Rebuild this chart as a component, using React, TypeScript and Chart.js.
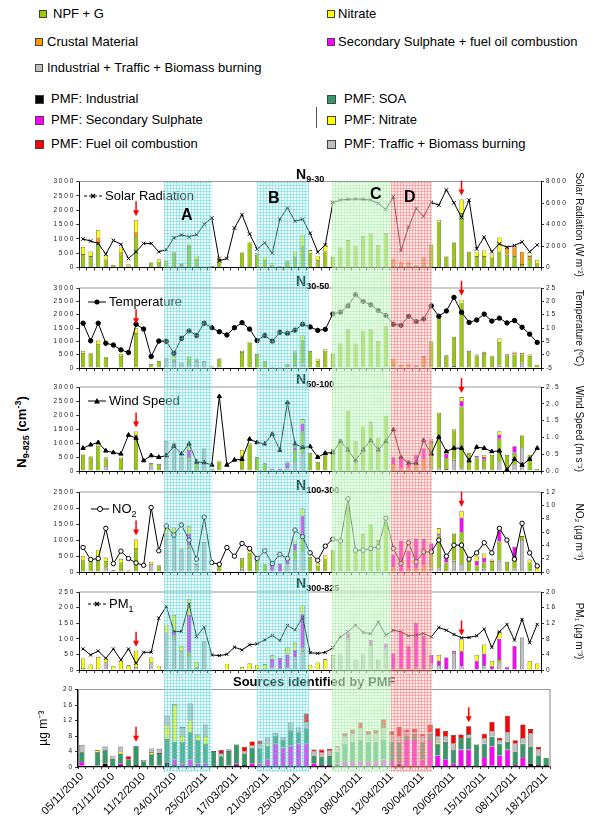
import React, { useEffect, useRef, useState } from 'react';
import { Chart, registerables } from 'chart.js';
Chart.register(...registerables);

const FONT = '"Liberation Sans", Arial, sans-serif';
const W = 596, H = 821;

// ---------- categories ----------
const dateLabels = ['05/11/2010','21/11/2010','11/12/2010','24/01/2010','25/02/2011','17/03/2011','21/03/2011','25/03/2011','30/03/2011','08/04/2011','12/04/2011','30/04/2011','20/05/2011','15/10/2011','08/11/2011','18/12/2011'];
const NCAT = 61;
const categories = Array.from({ length: NCAT }, (_, i) => (i % 4 === 0 ? dateLabels[i / 4] : ''));
const arrowIdx = [7, 50];
const shadeRanges = [[10.7, 17.0], [23.0, 29.8], [32.85, 40.7], [40.7, 46.05]];
const shadeNames = ['A', 'B', 'C', 'D'];

// ---------- N9-30 ----------
const p1Green = [470,400,850,280,93,450,40,1100,0,175, 200,150,500,110,750,300,10,50,300,0, 30,525,850,450,250,100,40,230,380,760, 500,250,560,374,700,957,760,1097,1190,782, 1202,130,60,60,40,200,805,1600,385,875, 1900,549,400,400,350,560,450,400,120,300, 150];
const p1Orange = [0,0,200,0,0,100,0,150,0,0, 0,0,0,0,0,0,0,0,50,0, 0,0,0,0,0,0,0,0,0,0, 0,0,0,0,0,0,0,0,0,0, 0,160,125,125,40,150,0,0,0,0, 0,0,0,0,0,0,250,300,429,100, 0];
const p1Yellow = [250,160,260,150,0,150,77,400,0,0, 90,75,50,40,55,110,0,0,60,0, 0,0,50,50,90,50,0,0,170,385, 107,160,220,0,0,0,0,0,0,0, 0,0,0,0,0,0,0,60,0,0, 470,0,150,195,105,490,59,59,0,44, 118];
const solarRadiation = [2650,2460,2240,1245,2520,2150,840,1460,2240,2240, 1460,1650,2770,3020,2860,3050,4015,4607,620,840, 3670,4920,3110,1710,2300,1340,4510,5540,4300,4500, 3180,1430,2100,6050,6270,6340,6370,6340,6270,5960, 5400,6590,1570,3760,5490,4770,6050,5800,7215,6020, 4640,6270,1725,2820,1470,2200,1880,2040,2380,1470, 2100];

// ---------- N30-50 ----------
const p2Gray = [0,0,0,0,0,0,20,0,0,0, 0,300,250,202,150,250,252,0,0,0, 0,0,0,0,0,0,0,0,100,160, 0,0,0,0,0,0,0,0,0,0, 0,0,0,0,0,0,0,0,0,72, 0,0,0,0,0,80,0,0,200,0, 0];
const p2Green = [550,555,900,380,15,450,0,1300,0,139, 252,30,70,0,200,60,0,50,353,0, 20,600,950,530,265,50,38,120,480,880, 643,250,650,542,920,1462,920,1387,1450,1008, 1563,150,0,0,0,100,996,1900,479,1100, 2450,643,470,550,441,900,460,500,300,450, 126];
const p2Orange = [0,0,0,0,0,0,0,0,0,0, 0,0,0,0,0,0,0,0,0,0, 0,0,0,0,0,0,0,0,0,0, 0,0,0,0,0,0,0,0,0,0, 0,200,126,164,70,300,0,0,0,0, 0,0,0,0,0,0,57,70,67,0, 0];
const p2Magenta = [0,0,0,0,0,0,0,0,0,0, 0,0,0,0,0,0,0,0,0,0, 0,0,0,0,0,0,0,0,0,0, 0,0,0,0,0,0,0,0,0,0, 0,0,0,0,30,54,0,0,0,0, 0,0,0,0,0,0,0,0,0,0, 0];
const p2Yellow = [90,0,130,36,0,80,0,190,0,0, 0,48,120,0,66,43,0,26,0,0, 0,43,33,0,0,0,0,31,50,180, 0,100,56,0,0,0,0,0,0,0, 0,0,0,0,0,0,0,29,0,0, 109,0,34,55,0,129,0,35,0,54, 0];
const temperature = [11.8,5.2,11.8,4.3,3.6,1.8,0.8,11.4,9.6,-0.7, 5.1,5.0,0.5,6.1,8.9,7.2,11.8,10.1,8.6,7.4, 10.1,12.0,9.6,5.3,7.2,5.1,8.4,8.0,9.2,11.4, 10.4,9.1,9.5,15.3,15.9,18.3,22.5,20.0,18.7,16.6, 14.7,11.4,11.0,14.4,12.4,13.4,18.3,14.4,16.4,21.5, 15.9,12.1,13.0,15.2,12.6,13.7,11.9,12.8,10.3,7.7, 4.6];

// ---------- N50-100 ----------
const p3Gray = [0,0,0,180,0,0,20,0,0,200, 0,1076,900,514,400,0,801,0,0,0, 0,53,0,0,0,0,0,100,300,600, 0,0,0,0,0,0,0,0,0,0, 0,0,0,0,0,0,100,80,67,400, 100,0,0,100,0,300,0,250,800,0, 0];
const p3Green = [580,514,900,270,20,430,0,1300,0,75, 251,0,56,0,100,300,0,72,340,0, 20,500,950,490,275,24,0,0,450,800, 645,323,600,789,1050,2151,1076,1590,1700,1171, 1972,100,0,0,124,0,900,2000,400,1050, 2200,633,480,300,574,850,574,400,467,574, 72];
const p3Orange = [0,0,0,0,0,0,0,0,0,0, 0,0,0,0,0,0,0,0,0,0, 0,0,0,0,0,0,0,0,0,0, 0,0,0,0,0,0,0,0,0,0, 0,150,90,132,100,400,0,0,0,0, 0,0,0,0,0,0,0,0,0,0, 0];
const p3Magenta = [0,0,0,0,0,0,0,0,0,0, 0,0,0,0,250,0,0,0,0,0, 0,0,0,0,0,60,84,200,100,300, 0,0,0,0,85,0,0,0,69,0, 0,240,400,250,350,413,80,0,150,0, 200,0,58,100,0,150,0,234,0,0, 0];
const p3Yellow = [18,0,68,40,0,48,0,110,0,0, 0,0,60,0,218,35,0,0,30,0, 0,200,42,0,0,0,0,35,46,153, 0,0,93,0,0,0,0,0,0,0, 0,0,0,0,0,0,67,0,100,44, 141,0,0,74,0,122,0,0,0,0, 0];
const windSpeed = [0.68,0.78,0.85,0.60,0.55,0.51,1.07,0.98,0.31,0.46, 0.41,0.46,0.74,0.51,0.81,0.27,0.25,0.18,2.22,0.18, 0.33,0.35,0.95,0.85,0.81,1.10,0.62,2.04,0.81,0.70, 0.73,0.41,0.53,0.55,0.88,0.63,0.31,0.63,0.91,0.63, 0.88,1.23,0.41,0.23,0.23,0.91,0.51,1.01,0.58,0.68, 0.68,0.31,0.71,0.68,0.58,0.60,0.03,0.35,0.18,0.35, 0.68];

// ---------- N100-300 ----------
const p4Gray = [0,0,0,150,0,0,0,0,0,250, 0,1200,1100,650,750,180,935,0,0,0, 0,100,0,0,0,0,0,200,380,650, 0,0,0,0,0,0,0,0,0,0, 0,0,0,0,0,0,100,150,0,350, 250,0,0,100,0,350,0,100,1000,0, 0];
const p4Green = [370,330,500,200,53,300,40,750,0,0, 180,0,100,50,89,60,0,31,200,0, 10,300,600,350,242,42,0,44,300,400, 473,200,400,683,950,2048,735,1176,1460,998, 1544,0,0,0,0,0,500,1000,300,850, 1000,420,200,200,340,600,315,300,124,300, 0];
const p4Orange = [0,0,0,0,0,0,0,0,0,0, 0,0,0,0,0,0,0,0,0,0, 0,0,0,0,0,0,0,0,0,0, 0,0,0,0,0,0,0,0,0,0, 0,150,0,100,100,200,0,0,0,0, 0,0,0,0,0,0,0,0,0,0, 0];
const p4Magenta = [0,0,0,0,0,0,0,0,0,0, 0,0,0,0,350,0,0,0,0,0, 0,0,0,0,0,200,263,250,200,700, 0,0,0,0,48,0,0,0,0,0, 0,396,977,562,950,829,293,50,225,0, 450,0,150,150,0,350,0,388,0,0, 0];
const p4Yellow = [124,59,183,102,0,110,34,269,0,65, 30,218,187,35,250,44,0,0,63,0, 0,41,62,39,0,0,0,0,97,246, 0,84,125,0,0,0,0,0,0,0, 0,0,0,0,0,0,0,166,0,0, 212,0,144,128,49,118,0,0,0,89, 189];
const no2 = [3.68,1.87,2.02,6.55,1.26,3.13,2.02,1.36,1.01,9.68, 3.18,6.91,5.55,7.06,4.79,1.92,8.22,1.41,1.16,3.68, 2.37,4.29,3.53,2.02,3.18,1.26,2.67,2.02,6.30,5.29, 2.87,1.76,3.88,4.94,4.69,10.99,3.28,3.28,3.53,3.78, 8.07,3.53,1.26,4.39,1.51,3.03,3.03,4.79,2.37,4.03, 4.03,1.92,2.87,4.39,2.87,6.55,4.79,1.92,7.31,2.87, 0.91];

// ---------- N300-825 ----------
const p5Gray = [0,0,0,25,0,0,0,10,0,20, 0,120,100,60,40,0,93,0,0,0, 0,0,0,0,0,10,0,10,40,60, 0,0,0,40,50,100,32,50,80,32, 70,0,0,0,0,0,20,15,0,55, 12,0,0,15,0,25,0,0,104,0, 0];
const p5Green = [7,0,0,0,0,0,0,0,0,5, 0,0,10,0,17,10,0,0,0,0, 0,0,0,0,4,0,4,0,0,10, 0,0,0,0,0,0,0,0,0,0, 0,0,0,0,0,0,0,0,0,0, 0,0,0,0,0,10,0,0,0,0, 0];
const p5Orange = [0,0,0,0,0,0,0,0,0,0, 0,0,0,0,0,0,0,0,0,0, 0,0,0,0,0,0,0,0,0,0, 0,0,0,0,0,0,0,0,0,0, 0,3,5,0,7,0,0,0,0,0, 0,0,0,0,0,0,0,0,0,0, 0];
const p5Magenta = [0,0,0,0,0,0,0,0,0,0, 0,0,15,0,120,0,0,0,0,0, 0,0,0,0,0,27,35,40,25,110, 0,0,0,0,0,17,0,0,16,0, 15,50,115,78,145,109,28,15,40,7, 48,0,30,37,12,65,9,77,0,0, 0];
const p5Yellow = [30,18,42,12,13,30,15,52,0,15, 14,25,52,17,50,15,0,0,0,20, 0,10,22,17,15,10,0,23,23,27, 16,24,35,8,0,0,0,0,0,0, 0,0,0,0,0,0,0,18,0,0, 38,2,18,30,17,24,0,0,0,29, 21];
const pm1 = [5.41,3.86,4.89,3.0,5.41,2.58,5.41,1.72,4.55,4.55, 13.3,16.3,9.87,9.87,16.9,8.58,10.99,3.86,3.69,4.03, 5.84,5.15,6.44,6.70,7.73,8.84,7.55,11.4,10.3,13.5, 4.43,4.26,4.51,5.70,8.51,9.79,11.5,9.62,9.36,12.3, 8.94,10.2,9.79,8.77,8.94,9.36,8.51,10.9,10.2,9.11, 8.26,8.34,8.77,10.5,5.79,9.79,11.7,7.66,13.0,6.98, 11.7];

// ---------- PMF sources (µg m-3) ----------
const pmfIndustrial = [0.3,0,0.3,1.0,0,0.5,0,0.5,0,0.3, 0.3,1.2,0.5,0,0,0,0,0,0,0.3, 0.5,0.5,0,0,0,0,0,0,0,0, 0,0,0,0.5,0,0,0,0,0,0, 0,1.0,0,0,0,0,0,0,0,0, 0,0,0,0.3,0,0,0,0,1.0,0.5, 0.5];
const pmfSecSulphate = [1.0,0,0,0,0,0.5,0,0,0,0, 0,0,1.5,1.0,2.0,1.0,1.0,0,0,0, 0.5,0,1.0,1.0,2.0,6.0,5.0,5.5,6.0,6.0, 1.0,0.5,0.5,0.5,1.5,1.5,1.5,1.5,1.5,2.0, 1.5,0.5,7.0,7.0,2.0,7.0,3.0,2.0,1.0,4.5, 4.5,0,2.5,5.0,3.0,4.5,0.5,2.5,0,0, 0];
const pmfSOA = [2.5,0,3.5,3.5,2.2,2.5,2.0,5.0,1.5,3.0, 3.3,6.0,4.5,5.5,7.0,6.0,5.0,4.1,2.8,3.8, 4.8,3.0,4.0,4.0,3.5,2.0,2.0,4.0,3.0,4.0, 2.0,2.0,2.5,3.0,4.5,5.0,5.5,5.0,5.0,5.0, 5.0,5.0,1.2,1.5,4.5,1.5,3.0,4.5,3.5,3.0, 3.0,5.8,3.5,2.5,3.0,2.0,3.5,3.5,4.3,2.5, 1.9];
const pmfNitrate = [0,0,0.5,0,0,0.5,0,0,0,0.5, 0,3.5,9.5,1.5,3.0,1.0,2.0,0,0,0, 0,0,0,0,0.5,0,0,0,0,0, 0,0,0,0,0,0,0,0,0,0, 0,0,0,0,0,0,0.5,0,0,0, 0,0,0,0,0,0,0,0,0,0, 0];
const pmfTraffic = [1.9,0,0,0.8,0.7,1.3,0,0,0.3,1.0, 1.1,2.6,0.3,2.3,4.4,0.6,3.0,0,0.8,0.5, 0,0.5,0.5,0.8,1.6,0.8,0.8,2.0,1.2,1.5, 1.0,1.2,1.2,1.0,1.8,2.2,3.0,2.0,2.2,3.3, 2.0,1.5,0.8,0.5,1.5,0.5,1.5,1.5,1.5,0, 1.0,0,1.5,1.5,1.0,2.5,2.0,1.5,3.5,1.5, 0];
const pmfFuelOil = [0,0,0,0,0,0,0.8,0,0,0, 0,0,0,0,0,0,0,0,0.8,0, 0,1.2,1.1,1.0,0,0,0,0,0,2.3, 0.5,0.8,0.5,0.5,1.0,1.0,1.5,0.8,0.9,2.0, 0.7,2.3,0.7,0.8,0.6,2.0,2.0,1.3,2.3,0.9, 2.0,0,1.1,2.4,0.5,4.2,0.9,3.5,1.0,0.7, 0];

// ---------- colours ----------
const GREEN = '#99CC00', ORANGE = '#FF9900', GRAY = '#C0C0C0', YELLOW = '#FFFF00', MAGENTA = '#FF00FF';
const BLACK = '#000000', RED = '#FF0000', SOA = '#339966';

const legendTop = [
  { name: 'NPF + G', color: GREEN },
  { name: 'Crustal Material', color: ORANGE },
  { name: 'Industrial + Traffic + Biomass burning', color: GRAY },
  { name: 'Nitrate', color: YELLOW },
  { name: 'Secondary Sulphate + fuel oil combustion', color: MAGENTA },
];
const legendPmf = [
  { name: 'PMF: Industrial', color: BLACK },
  { name: 'PMF: Secondary Sulphate', color: MAGENTA },
  { name: 'PMF: Fuel oil combustion', color: RED },
  { name: 'PMF: SOA', color: SOA },
  { name: 'PMF: Nitrate', color: YELLOW },
  { name: 'PMF: Traffic + Biomass burning', color: GRAY },
];

type Comp = { data: number[]; color: string };
type Panel = {
  top: number; bottom: number; comps: Comp[]; line: number[]; point: string; pointFill: string; pointR: number;
  yMax: number; yStep: number; rMin: number; rMax: number; rStep: number; rDec: number; rTitle: string;
};

const upperPanels: Panel[] = [
  { top: 181.5, bottom: 267.5, comps: [{ data: p1Green, color: GREEN }, { data: p1Orange, color: ORANGE }, { data: p1Yellow, color: YELLOW }],
    line: solarRadiation, point: 'crossRot', pointFill: '#000', pointR: 2.5, yMax: 3000, yStep: 500, rMin: 0, rMax: 8000, rStep: 2000, rDec: 0, rTitle: 'Solar Radiation (W m⁻²)' },
  { top: 288, bottom: 368, comps: [{ data: p2Gray, color: GRAY }, { data: p2Green, color: GREEN }, { data: p2Orange, color: ORANGE }, { data: p2Magenta, color: MAGENTA }, { data: p2Yellow, color: YELLOW }],
    line: temperature, point: 'circle', pointFill: '#000', pointR: 2.2, yMax: 3000, yStep: 500, rMin: -5, rMax: 25, rStep: 5, rDec: 0, rTitle: 'Temperature (ºC)' },
  { top: 387, bottom: 471, comps: [{ data: p3Gray, color: GRAY }, { data: p3Green, color: GREEN }, { data: p3Orange, color: ORANGE }, { data: p3Magenta, color: MAGENTA }, { data: p3Yellow, color: YELLOW }],
    line: windSpeed, point: 'triangle', pointFill: '#000', pointR: 2.5, yMax: 3000, yStep: 500, rMin: 0, rMax: 2.5, rStep: 0.5, rDec: 1, rTitle: 'Wind Speed (m s⁻¹)' },
  { top: 492, bottom: 572, comps: [{ data: p4Gray, color: GRAY }, { data: p4Green, color: GREEN }, { data: p4Orange, color: ORANGE }, { data: p4Magenta, color: MAGENTA }, { data: p4Yellow, color: YELLOW }],
    line: no2, point: 'circle', pointFill: '#fff', pointR: 2.2, yMax: 2500, yStep: 500, rMin: 0, rMax: 12, rStep: 2, rDec: 0, rTitle: 'NO₂ (µg m⁻³)' },
  { top: 592, bottom: 670, comps: [{ data: p5Gray, color: GRAY }, { data: p5Green, color: GREEN }, { data: p5Orange, color: ORANGE }, { data: p5Magenta, color: MAGENTA }, { data: p5Yellow, color: YELLOW }],
    line: pm1, point: 'crossRot', pointFill: '#000', pointR: 2.2, yMax: 250, yStep: 50, rMin: 0, rMax: 20, rStep: 4, rDec: 0, rTitle: 'PM₁ (µg m⁻³)' },
];
const bottomPanel = { top: 689.5, bottom: 767,
  comps: [{ data: pmfIndustrial, color: BLACK }, { data: pmfSecSulphate, color: MAGENTA }, { data: pmfSOA, color: SOA }, { data: pmfNitrate, color: YELLOW }, { data: pmfTraffic, color: GRAY }, { data: pmfFuelOil, color: RED }] };

const spaced = (s: string) => s.split('').join(' ').replace('- ', '-');

const framePlugin = {
  id: 'frame',
  afterDatasetsDraw(chart: any, _a: any, opts: any) {
    const { ctx, chartArea: a } = chart;
    ctx.save();
    ctx.strokeStyle = '#9a9a9a';
    ctx.lineWidth = 1.2;
    ctx.beginPath();
    ctx.moveTo(a.left, a.top);
    ctx.lineTo(a.right, a.top);
    if (opts.rightBorder) { ctx.lineTo(a.right, a.bottom); }
    ctx.stroke();
    const xs = chart.scales.x, ys = chart.scales.y;
    (opts.arrows || []).forEach((idx: number) => {
      let total = 0;
      chart.data.datasets.forEach((ds: any) => { if (ds.type !== 'line') total += ds.data[idx] || 0; });
      const x = xs.getPixelForValue(idx);
      const tip = ys.getPixelForValue(total) - 4;
      ctx.strokeStyle = '#FF0000';
      ctx.fillStyle = '#FF0000';
      ctx.lineWidth = 1.5;
      ctx.beginPath();
      ctx.moveTo(x, tip - 15);
      ctx.lineTo(x, tip - 4);
      ctx.stroke();
      ctx.beginPath();
      ctx.moveTo(x - 3, tip - 6);
      ctx.lineTo(x + 3, tip - 6);
      ctx.lineTo(x, tip);
      ctx.closePath();
      ctx.fill();
    });
    ctx.restore();
  },
};

const tickFont = { family: FONT, size: 6.5 };

function barSets(comps: Comp[], pct: number) {
  return comps.map((c) => ({
    type: 'bar' as const,
    data: c.data.map((v) => (v ? v : null)),
    backgroundColor: c.color,
    borderColor: '#2a2a2a',
    borderWidth: 0.6,
    stack: 's',
    yAxisID: 'y',
    barPercentage: pct,
    categoryPercentage: 1,
    order: 2,
  }));
}

function makeUpper(canvas: HTMLCanvasElement, p: Panel) {
  return new Chart(canvas, {
    type: 'bar',
    data: {
      labels: categories,
      datasets: [
        { type: 'line', data: p.line, yAxisID: 'y1', borderColor: '#000', borderWidth: 1, pointStyle: p.point as any,
          pointRadius: p.pointR, pointBackgroundColor: p.pointFill, pointBorderColor: '#000', pointBorderWidth: 1, tension: 0, order: 0 } as any,
        ...barSets(p.comps, 0.55),
      ],
    },
    options: {
      responsive: false, animation: false,
      layout: { padding: { top: p.top, bottom: H - p.bottom - 4, left: 0, right: 9 } },
      plugins: { legend: { display: false }, tooltip: { enabled: false }, frame: { arrows: arrowIdx } } as any,
      scales: {
        x: { stacked: true, ticks: { display: false }, grid: { drawOnChartArea: false, drawTicks: true, tickLength: 3, color: '#000', lineWidth: 0.8 },
          border: { color: '#000', width: 1 }, afterFit: (s: any) => { s.height = 4; } },
        y: { stacked: true, min: 0, max: p.yMax, ticks: { stepSize: p.yStep, font: tickFont, color: '#222', padding: 3, callback: (v: any) => spaced(String(v)) },
          grid: { drawOnChartArea: false, tickLength: 3, color: '#000', lineWidth: 0.8 }, border: { color: '#000', width: 1 },
          afterFit: (s: any) => { s.width = 79.3; } },
        y1: { position: 'right', min: p.rMin, max: p.rMax, ticks: { stepSize: p.rStep, font: tickFont, color: '#222', padding: 2, callback: (v: any) => spaced(Number(v).toFixed(p.rDec)) },
          grid: { drawOnChartArea: false, tickLength: 3, color: '#000', lineWidth: 0.8 }, border: { color: '#000', width: 1 },
          title: { display: true, text: p.rTitle, color: '#111', font: { family: FONT, size: 10 }, padding: { top: 2, bottom: 0 } },
          afterFit: (s: any) => { s.width = 46; } },
      } as any,
    },
    plugins: [framePlugin],
  });
}

function makeBottom(canvas: HTMLCanvasElement) {
  const p = bottomPanel;
  return new Chart(canvas, {
    type: 'bar',
    data: { labels: categories, datasets: barSets(p.comps, 0.68) as any },
    options: {
      responsive: false, animation: false,
      layout: { padding: { top: p.top, bottom: 0, left: 32, right: 46 } },
      plugins: { legend: { display: false }, tooltip: { enabled: false }, frame: { arrows: arrowIdx, rightBorder: true } } as any,
      scales: {
        x: { stacked: true, ticks: { autoSkip: false, maxRotation: 45, minRotation: 45, padding: 1, font: { family: FONT, size: 11 }, color: '#000' },
          grid: { drawOnChartArea: false, tickLength: 2, color: '#000', lineWidth: 0.8 }, border: { color: '#000', width: 1.2 },
          afterFit: (s: any) => { s.height = H - p.bottom; } },
        y: { stacked: true, min: 0, max: 20, ticks: { stepSize: 4, font: tickFont, color: '#222', padding: 3, callback: (v: any) => spaced(String(v)) },
          grid: { drawOnChartArea: false, tickLength: 3, color: '#000', lineWidth: 0.8 }, border: { color: '#000', width: 1.5 },
          title: { display: true, text: 'µg m⁻³', color: '#000', font: { family: FONT, size: 12 }, padding: { top: 4, bottom: 0 } },
          afterFit: (s: any) => { s.width = 46; } },
      } as any,
    },
    plugins: [framePlugin],
  });
}

function Key({ x, y, kind, children }: { x: number; y: number; kind: string; children: React.ReactNode }) {
  return (
    <div style={{ position: 'absolute', left: x, top: y - 8, height: 16, whiteSpace: 'nowrap' }}>
      <svg width={18} height={10} style={{ position: 'absolute', left: 0, top: 3 }}>
        <line x1={0} y1={5} x2={18} y2={5} stroke="#000" strokeWidth={1} strokeDasharray={kind === 'cross' ? '3 2' : undefined} />
        {kind === 'dot' && <circle cx={9} cy={5} r={2.5} fill="#000" />}
        {kind === 'ring' && <circle cx={9} cy={5} r={2.5} fill="#fff" stroke="#000" strokeWidth={1} />}
        {kind === 'tri' && <polygon points="9,2 12,7.5 6,7.5" fill="#000" />}
        {kind === 'cross' && <path d="M7,3 L11,7 M11,3 L7,7" stroke="#000" strokeWidth={1.2} />}
      </svg>
      <div style={{ position: 'absolute', left: 21, top: 0, fontSize: 13, lineHeight: '16px', color: '#000' }}>{children}</div>
    </div>
  );
}

function Sq({ x, y, color, size }: { x: number; y: number; color: string; size: number }) {
  return <div style={{ position: 'absolute', left: x, top: y - size / 2, width: size, height: size, background: color, border: '1px solid #444', boxSizing: 'border-box' }} />;
}

function Txt({ x, y, children, size = 13 }: { x: number; y: number; children: React.ReactNode; size?: number }) {
  return <div style={{ position: 'absolute', left: x, top: y - 8, fontSize: size, lineHeight: '16px', whiteSpace: 'nowrap', color: '#000' }}>{children}</div>;
}

function PanelTitle({ top, sub }: { top: number; sub: string }) {
  return (
    <div style={{ position: 'absolute', left: 296, top, fontSize: 14, fontWeight: 'bold', lineHeight: '14px', whiteSpace: 'nowrap', color: '#000' }}>
      N<span style={{ fontSize: 9, position: 'relative', top: 3 }}>{sub}</span>
    </div>
  );
}

const shadeStyles = [
  { bg: 'rgba(190,242,242,0.28)', ln: 'rgba(60,205,210,0.38)' },
  { bg: 'rgba(190,242,242,0.28)', ln: 'rgba(60,205,210,0.38)' },
  { bg: 'rgba(225,255,225,0.55)', ln: 'rgba(140,230,140,0.38)' },
  { bg: 'rgba(255,205,205,0.42)', ln: 'rgba(255,100,100,0.42)' },
];
const letterPos = [{ x: 181, y: 215 }, { x: 268, y: 198 }, { x: 370, y: 194 }, { x: 404, y: 197 }];

export default function App() {
  const refs = useRef<(HTMLCanvasElement | null)[]>([]);
  const [shades, setShades] = useState<{ left: number; width: number }[]>([]);

  useEffect(() => {
    const charts: Chart[] = [];
    upperPanels.forEach((p, i) => charts.push(makeUpper(refs.current[i]!, p)));
    charts.push(makeBottom(refs.current[5]!));
    const xs: any = charts[0].scales.x;
    setShades(shadeRanges.map(([a, b]) => {
      const l = xs.getPixelForValue(a);
      const r = xs.getPixelForValue(b);
      return { left: l, width: r - l };
    }));
    return () => charts.forEach((c) => c.destroy());
  }, []);

  return (
    <div style={{ position: 'absolute', left: 0, top: 0, width: W, height: H, background: '#fff', fontFamily: FONT, overflow: 'hidden' }}>
      {/* top legend */}
      <Sq x={39} y={14} color={legendTop[0].color} size={8} /><Txt x={53} y={14}>{legendTop[0].name}</Txt>
      <Sq x={35} y={42} color={legendTop[1].color} size={8} /><Txt x={47} y={42}>{legendTop[1].name}</Txt>
      <Sq x={35} y={68} color={legendTop[2].color} size={8} /><Txt x={47} y={68}>{legendTop[2].name}</Txt>
      <Sq x={327} y={14} color={legendTop[3].color} size={8} /><Txt x={338} y={14}>{legendTop[3].name}</Txt>
      <Sq x={327} y={42} color={legendTop[4].color} size={8} /><Txt x={338} y={42}>{legendTop[4].name}</Txt>
      {legendPmf.slice(0, 3).map((l, i) => (
        <React.Fragment key={l.name}><Sq x={35} y={99 + [0, 21, 45][i]} color={l.color} size={9} /><Txt x={51} y={99 + [0, 21, 45][i]}>{l.name}</Txt></React.Fragment>
      ))}
      {legendPmf.slice(3).map((l, i) => (
        <React.Fragment key={l.name}><Sq x={327} y={99 + [0, 21, 45][i]} color={l.color} size={9} /><Txt x={344} y={99 + [0, 21, 45][i]}>{l.name}</Txt></React.Fragment>
      ))}
      <div style={{ position: 'absolute', left: 316, top: 107, width: 1, height: 21, background: '#555' }} />

      {/* left title */}
      <div style={{ position: 'absolute', left: 22, top: 432, transform: 'translate(-50%,-50%) rotate(-90deg)', fontSize: 13, fontWeight: 'bold', whiteSpace: 'nowrap', color: '#000' }}>
        N<sub style={{ fontSize: 9 }}>9-825</sub> (cm<sup style={{ fontSize: 9 }}>-3</sup>)
      </div>

      {[0, 1, 2, 3, 4, 5].map((i) => (
        <canvas key={i} ref={(el) => { refs.current[i] = el; }} width={W} height={H} style={{ position: 'absolute', left: 0, top: 0, width: W, height: H }} />
      ))}

      {/* panel titles */}
      <PanelTitle top={167} sub="9-30" />
      <PanelTitle top={274} sub="30-50" />
      <PanelTitle top={372} sub="50-100" />
      <PanelTitle top={478} sub="100-300" />
      <PanelTitle top={576} sub="300-825" />
      <div style={{ position: 'absolute', left: 233, top: 674, fontSize: 13, fontWeight: 'bold', lineHeight: '16px', whiteSpace: 'nowrap', color: '#000' }}>Sources identified by PMF</div>

      {/* in-panel series keys */}
      <Key x={84} y={196} kind="cross">Solar Radiation</Key>
      <Key x={88} y={302} kind="dot">Temperature</Key>
      <Key x={88} y={401} kind="tri">Wind Speed</Key>
      <Key x={91} y={509} kind="ring">NO<sub style={{ fontSize: 9 }}>2</sub></Key>
      <Key x={88} y={604} kind="cross">PM<sub style={{ fontSize: 9 }}>1</sub></Key>

      {/* shaded periods */}
      {shades.map((s, i) => (
        <div key={i} style={{ position: 'absolute', left: s.left, top: 181.5, width: s.width, height: 772 - 181.5,
          backgroundColor: shadeStyles[i].bg,
          backgroundImage: `linear-gradient(to right, ${shadeStyles[i].ln} 1px, transparent 1px), linear-gradient(to bottom, ${shadeStyles[i].ln} 1px, transparent 1px)`,
          backgroundSize: '3px 3px' }} />
      ))}
      {shadeNames.map((n, i) => (
        <div key={n} style={{ position: 'absolute', left: letterPos[i].x, top: letterPos[i].y - 9, fontSize: 16, fontWeight: 'bold', lineHeight: '18px', color: '#000' }}>{n}</div>
      ))}
    </div>
  );
}
